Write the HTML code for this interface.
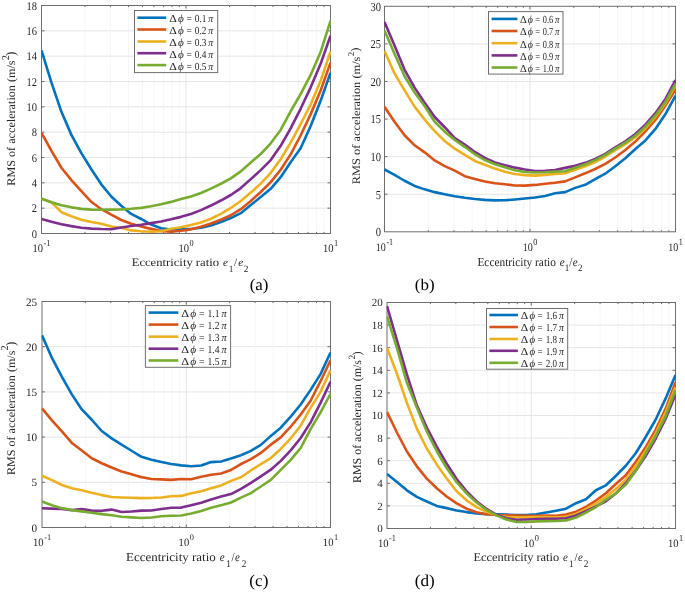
<!DOCTYPE html><html><head><meta charset="utf-8"><style>html,body{margin:0;padding:0;background:#fff;}svg{display:block;will-change:transform;}text{font-family:"Liberation Serif",serif;text-rendering:geometricPrecision;}</style></head><body>
<svg width="685" height="593" viewBox="0 0 685 593">
<rect width="685" height="593" fill="#fff"/>
<line x1="85" y1="6" x2="85" y2="233" stroke="#eeeeee" stroke-width="1" stroke-dasharray="1,1"/><line x1="110.44" y1="6" x2="110.44" y2="233" stroke="#eeeeee" stroke-width="1" stroke-dasharray="1,1"/><line x1="128.5" y1="6" x2="128.5" y2="233" stroke="#eeeeee" stroke-width="1" stroke-dasharray="1,1"/><line x1="142.5" y1="6" x2="142.5" y2="233" stroke="#eeeeee" stroke-width="1" stroke-dasharray="1,1"/><line x1="153.94" y1="6" x2="153.94" y2="233" stroke="#eeeeee" stroke-width="1" stroke-dasharray="1,1"/><line x1="163.62" y1="6" x2="163.62" y2="233" stroke="#eeeeee" stroke-width="1" stroke-dasharray="1,1"/><line x1="172" y1="6" x2="172" y2="233" stroke="#eeeeee" stroke-width="1" stroke-dasharray="1,1"/><line x1="179.39" y1="6" x2="179.39" y2="233" stroke="#eeeeee" stroke-width="1" stroke-dasharray="1,1"/><line x1="229.5" y1="6" x2="229.5" y2="233" stroke="#eeeeee" stroke-width="1" stroke-dasharray="1,1"/><line x1="254.94" y1="6" x2="254.94" y2="233" stroke="#eeeeee" stroke-width="1" stroke-dasharray="1,1"/><line x1="273" y1="6" x2="273" y2="233" stroke="#eeeeee" stroke-width="1" stroke-dasharray="1,1"/><line x1="287" y1="6" x2="287" y2="233" stroke="#eeeeee" stroke-width="1" stroke-dasharray="1,1"/><line x1="298.44" y1="6" x2="298.44" y2="233" stroke="#eeeeee" stroke-width="1" stroke-dasharray="1,1"/><line x1="308.12" y1="6" x2="308.12" y2="233" stroke="#eeeeee" stroke-width="1" stroke-dasharray="1,1"/><line x1="316.5" y1="6" x2="316.5" y2="233" stroke="#eeeeee" stroke-width="1" stroke-dasharray="1,1"/><line x1="323.89" y1="6" x2="323.89" y2="233" stroke="#eeeeee" stroke-width="1" stroke-dasharray="1,1"/><line x1="186" y1="5.5" x2="186" y2="233.5" stroke="#e6e6e6" stroke-width="1"/><line x1="41.5" y1="208.17" x2="330.5" y2="208.17" stroke="#e6e6e6" stroke-width="1"/><line x1="41.5" y1="182.83" x2="330.5" y2="182.83" stroke="#e6e6e6" stroke-width="1"/><line x1="41.5" y1="157.5" x2="330.5" y2="157.5" stroke="#e6e6e6" stroke-width="1"/><line x1="41.5" y1="132.17" x2="330.5" y2="132.17" stroke="#e6e6e6" stroke-width="1"/><line x1="41.5" y1="106.83" x2="330.5" y2="106.83" stroke="#e6e6e6" stroke-width="1"/><line x1="41.5" y1="81.5" x2="330.5" y2="81.5" stroke="#e6e6e6" stroke-width="1"/><line x1="41.5" y1="56.17" x2="330.5" y2="56.17" stroke="#e6e6e6" stroke-width="1"/><line x1="41.5" y1="30.83" x2="330.5" y2="30.83" stroke="#e6e6e6" stroke-width="1"/>
<rect x="41.5" y="5.5" width="289" height="228" fill="none" stroke="#6e6e6e" stroke-width="1"/>
<path d="M41.5,208.17h3M330.5,208.17h-3M41.5,182.83h3M330.5,182.83h-3M41.5,157.5h3M330.5,157.5h-3M41.5,132.17h3M330.5,132.17h-3M41.5,106.83h3M330.5,106.83h-3M41.5,81.5h3M330.5,81.5h-3M41.5,56.17h3M330.5,56.17h-3M41.5,30.83h3M330.5,30.83h-3M85,233.5v-1.6M85,5.5v1.6M110.44,233.5v-1.6M110.44,5.5v1.6M128.5,233.5v-1.6M128.5,5.5v1.6M142.5,233.5v-1.6M142.5,5.5v1.6M153.94,233.5v-1.6M153.94,5.5v1.6M163.62,233.5v-1.6M163.62,5.5v1.6M172,233.5v-1.6M172,5.5v1.6M179.39,233.5v-1.6M179.39,5.5v1.6M186,233.5v-3M186,5.5v3M229.5,233.5v-1.6M229.5,5.5v1.6M254.94,233.5v-1.6M254.94,5.5v1.6M273,233.5v-1.6M273,5.5v1.6M287,233.5v-1.6M287,5.5v1.6M298.44,233.5v-1.6M298.44,5.5v1.6M308.12,233.5v-1.6M308.12,5.5v1.6M316.5,233.5v-1.6M316.5,5.5v1.6M323.89,233.5v-1.6M323.89,5.5v1.6" stroke="#6e6e6e" stroke-width="1" fill="none"/>
<clipPath id="cpa"><rect x="41" y="5" width="290" height="229"/></clipPath><g clip-path="url(#cpa)">
<path d="M41.50,50.40 L51.47,82.59 L61.43,111.85 L71.40,134.88 L81.36,153.15 L91.33,169.21 L101.29,184.32 L111.26,196.46 L121.22,205.76 L131.19,213.96 L141.16,218.99 L151.12,224.59 L161.09,228.20 L171.05,229.55 L181.02,229.04 L190.98,229.00 L200.95,227.83 L210.91,225.43 L220.88,222.06 L230.84,217.99 L240.81,213.19 L250.78,204.99 L260.74,197.03 L270.71,188.85 L280.67,177.19 L290.64,162.20 L300.60,148.25 L310.57,126.27 L320.53,101.07 L330.50,72.80" fill="none" stroke="#0072BD" stroke-width="2.6" stroke-linejoin="round" stroke-linecap="butt"/>
<path d="M41.50,133.00 L51.47,150.89 L61.43,167.72 L71.40,180.09 L81.36,191.17 L91.33,201.82 L101.29,209.23 L111.26,214.60 L121.22,220.00 L131.19,223.79 L141.16,226.58 L151.12,228.86 L161.09,230.98 L171.05,231.79 L181.02,230.77 L190.98,229.35 L200.95,226.72 L210.91,223.43 L220.88,219.72 L230.84,215.24 L240.81,209.19 L250.78,201.01 L260.74,192.04 L270.71,182.11 L280.67,169.77 L290.64,154.38 L300.60,135.51 L310.57,114.38 L320.53,90.86 L330.50,62.60" fill="none" stroke="#D95319" stroke-width="2.6" stroke-linejoin="round" stroke-linecap="butt"/>
<path d="M41.50,198.60 L51.47,202.21 L61.43,212.20 L71.40,216.26 L81.36,219.75 L91.33,222.08 L101.29,223.69 L111.26,226.59 L121.22,227.79 L131.19,230.42 L141.16,231.24 L151.12,231.65 L161.09,231.23 L171.05,228.84 L181.02,227.31 L190.98,224.90 L200.95,222.41 L210.91,218.72 L220.88,213.81 L230.84,207.99 L240.81,200.96 L250.78,192.61 L260.74,183.64 L270.71,172.77 L280.67,159.29 L290.64,142.58 L300.60,124.18 L310.57,104.77 L320.53,80.96 L330.50,51.60" fill="none" stroke="#EDB120" stroke-width="2.6" stroke-linejoin="round" stroke-linecap="butt"/>
<path d="M41.50,219.10 L51.47,221.74 L61.43,224.30 L71.40,226.15 L81.36,227.67 L91.33,228.62 L101.29,229.05 L111.26,229.22 L121.22,227.51 L131.19,226.08 L141.16,224.77 L151.12,223.14 L161.09,221.42 L171.05,219.34 L181.02,216.87 L190.98,213.92 L200.95,210.14 L210.91,205.54 L220.88,200.52 L230.84,195.00 L240.81,188.06 L250.78,179.11 L260.74,170.14 L270.71,160.04 L280.67,145.79 L290.64,128.38 L300.60,108.80 L310.57,87.61 L320.53,64.07 L330.50,35.70" fill="none" stroke="#7E2F8E" stroke-width="2.6" stroke-linejoin="round" stroke-linecap="butt"/>
<path d="M41.50,198.80 L51.47,202.22 L61.43,205.17 L71.40,207.34 L81.36,208.86 L91.33,209.67 L101.29,209.72 L111.26,209.59 L121.22,209.35 L131.19,208.79 L141.16,207.85 L151.12,206.19 L161.09,204.29 L171.05,201.88 L181.02,199.01 L190.98,196.51 L200.95,193.04 L210.91,188.63 L220.88,183.76 L230.84,178.40 L240.81,171.40 L250.78,162.48 L260.74,153.99 L270.71,143.31 L280.67,129.97 L290.64,111.27 L300.60,94.12 L310.57,75.19 L320.53,52.27 L330.50,20.90" fill="none" stroke="#77AC30" stroke-width="2.6" stroke-linejoin="round" stroke-linecap="butt"/>
</g>
<rect x="134.5" y="10.5" width="83.2" height="62.1" fill="#fff" stroke="#6e6e6e" stroke-width="1"/>
<line x1="137.4" y1="17.7" x2="166.2" y2="17.7" stroke="#0072BD" stroke-width="2.6"/>
<text transform="translate(173,22.1)" font-size="10.8" text-anchor="middle" textLength="7.61" lengthAdjust="spacingAndGlyphs" fill="#262626">&#916;</text>
<text transform="translate(180.9,22.1)" font-size="10.8" text-anchor="middle" textLength="5.79" lengthAdjust="spacingAndGlyphs" fill="#262626" font-style="italic">&#981;</text>
<text transform="translate(189.11,22.1)" font-size="10.8" text-anchor="middle" textLength="5.38" lengthAdjust="spacingAndGlyphs" fill="#262626">=</text>
<text transform="translate(200.59,22.1)" font-size="10.8" text-anchor="middle" textLength="11.61" lengthAdjust="spacingAndGlyphs" fill="#262626">0.1</text>
<text transform="translate(210.81,22.1)" font-size="10.8" text-anchor="middle" textLength="4.98" lengthAdjust="spacingAndGlyphs" fill="#262626" font-style="italic">&#960;</text>
<line x1="137.4" y1="29.5" x2="166.2" y2="29.5" stroke="#D95319" stroke-width="2.6"/>
<text transform="translate(173,33.9)" font-size="10.8" text-anchor="middle" textLength="7.61" lengthAdjust="spacingAndGlyphs" fill="#262626">&#916;</text>
<text transform="translate(180.9,33.9)" font-size="10.8" text-anchor="middle" textLength="5.79" lengthAdjust="spacingAndGlyphs" fill="#262626" font-style="italic">&#981;</text>
<text transform="translate(189.11,33.9)" font-size="10.8" text-anchor="middle" textLength="5.38" lengthAdjust="spacingAndGlyphs" fill="#262626">=</text>
<text transform="translate(200.59,33.9)" font-size="10.8" text-anchor="middle" textLength="11.61" lengthAdjust="spacingAndGlyphs" fill="#262626">0.2</text>
<text transform="translate(210.81,33.9)" font-size="10.8" text-anchor="middle" textLength="4.98" lengthAdjust="spacingAndGlyphs" fill="#262626" font-style="italic">&#960;</text>
<line x1="137.4" y1="41.5" x2="166.2" y2="41.5" stroke="#EDB120" stroke-width="2.6"/>
<text transform="translate(173,45.9)" font-size="10.8" text-anchor="middle" textLength="7.61" lengthAdjust="spacingAndGlyphs" fill="#262626">&#916;</text>
<text transform="translate(180.9,45.9)" font-size="10.8" text-anchor="middle" textLength="5.79" lengthAdjust="spacingAndGlyphs" fill="#262626" font-style="italic">&#981;</text>
<text transform="translate(189.11,45.9)" font-size="10.8" text-anchor="middle" textLength="5.38" lengthAdjust="spacingAndGlyphs" fill="#262626">=</text>
<text transform="translate(200.59,45.9)" font-size="10.8" text-anchor="middle" textLength="11.61" lengthAdjust="spacingAndGlyphs" fill="#262626">0.3</text>
<text transform="translate(210.81,45.9)" font-size="10.8" text-anchor="middle" textLength="4.98" lengthAdjust="spacingAndGlyphs" fill="#262626" font-style="italic">&#960;</text>
<line x1="137.4" y1="53.2" x2="166.2" y2="53.2" stroke="#7E2F8E" stroke-width="2.6"/>
<text transform="translate(173,57.6)" font-size="10.8" text-anchor="middle" textLength="7.61" lengthAdjust="spacingAndGlyphs" fill="#262626">&#916;</text>
<text transform="translate(180.9,57.6)" font-size="10.8" text-anchor="middle" textLength="5.79" lengthAdjust="spacingAndGlyphs" fill="#262626" font-style="italic">&#981;</text>
<text transform="translate(189.11,57.6)" font-size="10.8" text-anchor="middle" textLength="5.38" lengthAdjust="spacingAndGlyphs" fill="#262626">=</text>
<text transform="translate(200.59,57.6)" font-size="10.8" text-anchor="middle" textLength="11.61" lengthAdjust="spacingAndGlyphs" fill="#262626">0.4</text>
<text transform="translate(210.81,57.6)" font-size="10.8" text-anchor="middle" textLength="4.98" lengthAdjust="spacingAndGlyphs" fill="#262626" font-style="italic">&#960;</text>
<line x1="137.4" y1="65.1" x2="166.2" y2="65.1" stroke="#77AC30" stroke-width="2.6"/>
<text transform="translate(173,69.5)" font-size="10.8" text-anchor="middle" textLength="7.61" lengthAdjust="spacingAndGlyphs" fill="#262626">&#916;</text>
<text transform="translate(180.9,69.5)" font-size="10.8" text-anchor="middle" textLength="5.79" lengthAdjust="spacingAndGlyphs" fill="#262626" font-style="italic">&#981;</text>
<text transform="translate(189.11,69.5)" font-size="10.8" text-anchor="middle" textLength="5.38" lengthAdjust="spacingAndGlyphs" fill="#262626">=</text>
<text transform="translate(200.59,69.5)" font-size="10.8" text-anchor="middle" textLength="11.61" lengthAdjust="spacingAndGlyphs" fill="#262626">0.5</text>
<text transform="translate(210.81,69.5)" font-size="10.8" text-anchor="middle" textLength="4.98" lengthAdjust="spacingAndGlyphs" fill="#262626" font-style="italic">&#960;</text>
<text transform="translate(37.1,237.71) scale(1,1.12)" font-size="10.5" text-anchor="end" fill="#262626">0</text>
<text transform="translate(37.1,212.38) scale(1,1.12)" font-size="10.5" text-anchor="end" fill="#262626">2</text>
<text transform="translate(37.1,187.04) scale(1,1.12)" font-size="10.5" text-anchor="end" fill="#262626">4</text>
<text transform="translate(37.1,161.71) scale(1,1.12)" font-size="10.5" text-anchor="end" fill="#262626">6</text>
<text transform="translate(37.1,136.38) scale(1,1.12)" font-size="10.5" text-anchor="end" fill="#262626">8</text>
<text transform="translate(37.1,111.04) scale(1,1.12)" font-size="10.5" text-anchor="end" fill="#262626">10</text>
<text transform="translate(37.1,85.71) scale(1,1.12)" font-size="10.5" text-anchor="end" fill="#262626">12</text>
<text transform="translate(37.1,60.38) scale(1,1.12)" font-size="10.5" text-anchor="end" fill="#262626">14</text>
<text transform="translate(37.1,35.04) scale(1,1.12)" font-size="10.5" text-anchor="end" fill="#262626">16</text>
<text transform="translate(37.1,9.71) scale(1,1.12)" font-size="10.5" text-anchor="end" fill="#262626">18</text>
<text transform="translate(41.5,252.1) scale(1,1.1)" font-size="10.5" text-anchor="middle" fill="#262626">10<tspan dx="0.6" dy="-5.45" font-size="8.3">-1</tspan></text>
<text transform="translate(186,252.1) scale(1,1.1)" font-size="10.5" text-anchor="middle" fill="#262626">10<tspan dx="0.6" dy="-5.45" font-size="8.3">0</tspan></text>
<text transform="translate(330.5,252.1) scale(1,1.1)" font-size="10.5" text-anchor="middle" fill="#262626">10<tspan dx="0.6" dy="-5.45" font-size="8.3">1</tspan></text>
<text transform="translate(175.35,265.6) scale(1,1.03)" font-size="11" text-anchor="middle" textLength="87.35" lengthAdjust="spacingAndGlyphs" fill="#262626">Eccentricity ratio</text>
<text transform="translate(225.35,265.6) scale(1,1.03)" font-size="11" text-anchor="middle" fill="#262626" font-style="italic">e</text>
<text transform="translate(231.05,271.6) scale(1,1.03)" font-size="9.3" text-anchor="middle" fill="#262626">1</text>
<text transform="translate(235.65,265.6) scale(1,1.03)" font-size="11" text-anchor="middle" fill="#262626">/</text>
<text transform="translate(240.6,265.6) scale(1,1.03)" font-size="11" text-anchor="middle" fill="#262626" font-style="italic">e</text>
<text transform="translate(246.05,271.6) scale(1,1.03)" font-size="9.3" text-anchor="middle" fill="#262626">2</text>
<text transform="translate(14.6,185.7) rotate(-90)" font-size="11.7" textLength="125.29" lengthAdjust="spacingAndGlyphs" fill="#262626">RMS of acceleration (m/s</text>
<text transform="translate(8.5,57.65) rotate(-90)" font-size="10.42" text-anchor="middle" fill="#262626">2</text>
<text transform="translate(14.58,51.5) rotate(-90)" font-size="13.22" text-anchor="end" fill="#262626">)</text>
<text transform="translate(259.05,290.4)" font-size="16.43" text-anchor="middle" textLength="18.8" lengthAdjust="spacingAndGlyphs" fill="#000">(a)</text>
<line x1="428.3" y1="7" x2="428.3" y2="231" stroke="#eeeeee" stroke-width="1" stroke-dasharray="1,1"/><line x1="453.92" y1="7" x2="453.92" y2="231" stroke="#eeeeee" stroke-width="1" stroke-dasharray="1,1"/><line x1="472.1" y1="7" x2="472.1" y2="231" stroke="#eeeeee" stroke-width="1" stroke-dasharray="1,1"/><line x1="486.2" y1="7" x2="486.2" y2="231" stroke="#eeeeee" stroke-width="1" stroke-dasharray="1,1"/><line x1="497.72" y1="7" x2="497.72" y2="231" stroke="#eeeeee" stroke-width="1" stroke-dasharray="1,1"/><line x1="507.46" y1="7" x2="507.46" y2="231" stroke="#eeeeee" stroke-width="1" stroke-dasharray="1,1"/><line x1="515.9" y1="7" x2="515.9" y2="231" stroke="#eeeeee" stroke-width="1" stroke-dasharray="1,1"/><line x1="523.34" y1="7" x2="523.34" y2="231" stroke="#eeeeee" stroke-width="1" stroke-dasharray="1,1"/><line x1="573.8" y1="7" x2="573.8" y2="231" stroke="#eeeeee" stroke-width="1" stroke-dasharray="1,1"/><line x1="599.42" y1="7" x2="599.42" y2="231" stroke="#eeeeee" stroke-width="1" stroke-dasharray="1,1"/><line x1="617.6" y1="7" x2="617.6" y2="231" stroke="#eeeeee" stroke-width="1" stroke-dasharray="1,1"/><line x1="631.7" y1="7" x2="631.7" y2="231" stroke="#eeeeee" stroke-width="1" stroke-dasharray="1,1"/><line x1="643.22" y1="7" x2="643.22" y2="231" stroke="#eeeeee" stroke-width="1" stroke-dasharray="1,1"/><line x1="652.96" y1="7" x2="652.96" y2="231" stroke="#eeeeee" stroke-width="1" stroke-dasharray="1,1"/><line x1="661.4" y1="7" x2="661.4" y2="231" stroke="#eeeeee" stroke-width="1" stroke-dasharray="1,1"/><line x1="668.84" y1="7" x2="668.84" y2="231" stroke="#eeeeee" stroke-width="1" stroke-dasharray="1,1"/><line x1="530" y1="6.3" x2="530" y2="231.8" stroke="#e6e6e6" stroke-width="1"/><line x1="384.5" y1="194.22" x2="675.5" y2="194.22" stroke="#e6e6e6" stroke-width="1"/><line x1="384.5" y1="156.63" x2="675.5" y2="156.63" stroke="#e6e6e6" stroke-width="1"/><line x1="384.5" y1="119.05" x2="675.5" y2="119.05" stroke="#e6e6e6" stroke-width="1"/><line x1="384.5" y1="81.47" x2="675.5" y2="81.47" stroke="#e6e6e6" stroke-width="1"/><line x1="384.5" y1="43.88" x2="675.5" y2="43.88" stroke="#e6e6e6" stroke-width="1"/>
<rect x="384.5" y="6.3" width="291" height="225.5" fill="none" stroke="#6e6e6e" stroke-width="1"/>
<path d="M384.5,194.22h3M675.5,194.22h-3M384.5,156.63h3M675.5,156.63h-3M384.5,119.05h3M675.5,119.05h-3M384.5,81.47h3M675.5,81.47h-3M384.5,43.88h3M675.5,43.88h-3M428.3,231.8v-1.6M428.3,6.3v1.6M453.92,231.8v-1.6M453.92,6.3v1.6M472.1,231.8v-1.6M472.1,6.3v1.6M486.2,231.8v-1.6M486.2,6.3v1.6M497.72,231.8v-1.6M497.72,6.3v1.6M507.46,231.8v-1.6M507.46,6.3v1.6M515.9,231.8v-1.6M515.9,6.3v1.6M523.34,231.8v-1.6M523.34,6.3v1.6M530,231.8v-3M530,6.3v3M573.8,231.8v-1.6M573.8,6.3v1.6M599.42,231.8v-1.6M599.42,6.3v1.6M617.6,231.8v-1.6M617.6,6.3v1.6M631.7,231.8v-1.6M631.7,6.3v1.6M643.22,231.8v-1.6M643.22,6.3v1.6M652.96,231.8v-1.6M652.96,6.3v1.6M661.4,231.8v-1.6M661.4,6.3v1.6M668.84,231.8v-1.6M668.84,6.3v1.6" stroke="#6e6e6e" stroke-width="1" fill="none"/>
<clipPath id="cpb"><rect x="384" y="5.8" width="292" height="226.5"/></clipPath><g clip-path="url(#cpb)">
<path d="M384.50,169.50 L394.53,174.78 L404.57,180.75 L414.60,185.95 L424.64,189.37 L434.67,192.14 L444.71,194.29 L454.74,196.18 L464.78,197.70 L474.81,198.95 L484.84,199.84 L494.88,200.33 L504.91,200.25 L514.95,199.45 L524.98,198.50 L535.02,197.47 L545.05,196.06 L555.09,193.29 L565.12,192.15 L575.16,187.87 L585.19,184.80 L595.22,179.13 L605.26,173.73 L615.29,166.19 L625.33,158.24 L635.36,149.06 L645.40,140.42 L655.43,128.91 L665.47,114.04 L675.50,95.70" fill="none" stroke="#0072BD" stroke-width="2.6" stroke-linejoin="round" stroke-linecap="butt"/>
<path d="M384.50,106.80 L394.53,121.78 L404.57,135.26 L414.60,145.30 L424.64,152.35 L434.67,160.40 L444.71,166.06 L454.74,170.60 L464.78,176.17 L474.81,178.92 L484.84,181.46 L494.88,183.19 L504.91,184.22 L514.95,185.50 L524.98,185.60 L535.02,184.92 L545.05,183.73 L555.09,182.73 L565.12,181.35 L575.16,177.34 L585.19,173.32 L595.22,168.98 L605.26,163.92 L615.29,157.49 L625.33,150.04 L635.36,141.62 L645.40,131.42 L655.43,119.96 L665.47,105.58 L675.50,89.60" fill="none" stroke="#D95319" stroke-width="2.6" stroke-linejoin="round" stroke-linecap="butt"/>
<path d="M384.50,51.00 L394.53,73.41 L404.57,90.35 L414.60,106.64 L424.64,119.56 L434.67,131.17 L444.71,140.97 L454.74,148.73 L464.78,154.82 L474.81,160.98 L484.84,164.79 L494.88,168.61 L504.91,171.80 L514.95,174.06 L524.98,175.10 L535.02,175.65 L545.05,174.88 L555.09,173.93 L565.12,173.26 L575.16,169.76 L585.19,166.22 L595.22,162.03 L605.26,156.53 L615.29,150.09 L625.33,144.07 L635.36,137.28 L645.40,128.15 L655.43,116.93 L665.47,103.22 L675.50,85.50" fill="none" stroke="#EDB120" stroke-width="2.6" stroke-linejoin="round" stroke-linecap="butt"/>
<path d="M384.50,22.00 L394.53,45.59 L404.57,69.78 L414.60,87.61 L424.64,102.73 L434.67,116.98 L444.71,127.23 L454.74,138.14 L464.78,144.51 L474.81,151.94 L484.84,157.87 L494.88,162.43 L504.91,165.14 L514.95,167.65 L524.98,169.58 L535.02,170.99 L545.05,170.82 L555.09,170.12 L565.12,167.88 L575.16,165.87 L585.19,162.87 L595.22,158.88 L605.26,153.82 L615.29,147.39 L625.33,141.33 L635.36,134.06 L645.40,124.60 L655.43,113.14 L665.47,98.89 L675.50,80.20" fill="none" stroke="#7E2F8E" stroke-width="2.6" stroke-linejoin="round" stroke-linecap="butt"/>
<path d="M384.50,30.50 L394.53,53.75 L404.57,76.27 L414.60,92.51 L424.64,105.99 L434.67,121.77 L444.71,131.63 L454.74,139.96 L464.78,146.81 L474.81,154.19 L484.84,160.07 L494.88,164.30 L504.91,167.36 L514.95,170.18 L524.98,172.00 L535.02,172.48 L545.05,172.23 L555.09,171.62 L565.12,171.26 L575.16,167.69 L585.19,164.17 L595.22,160.13 L605.26,154.93 L615.29,148.63 L625.33,142.55 L635.36,135.74 L645.40,126.65 L655.43,115.43 L665.47,101.72 L675.50,83.60" fill="none" stroke="#77AC30" stroke-width="2.6" stroke-linejoin="round" stroke-linecap="butt"/>
</g>
<rect x="488.5" y="11.6" width="74.5" height="62.5" fill="#fff" stroke="#6e6e6e" stroke-width="1"/>
<line x1="491.6" y1="18.9" x2="517.4" y2="18.9" stroke="#0072BD" stroke-width="2.6"/>
<text transform="translate(523.28,23.3)" font-size="10.8" text-anchor="middle" textLength="6.76" lengthAdjust="spacingAndGlyphs" fill="#262626">&#916;</text>
<text transform="translate(530.35,23.3)" font-size="10.8" text-anchor="middle" textLength="5.13" lengthAdjust="spacingAndGlyphs" fill="#262626" font-style="italic">&#981;</text>
<text transform="translate(537.69,23.3)" font-size="10.8" text-anchor="middle" textLength="4.77" lengthAdjust="spacingAndGlyphs" fill="#262626">=</text>
<text transform="translate(547.96,23.3)" font-size="10.8" text-anchor="middle" textLength="10.35" lengthAdjust="spacingAndGlyphs" fill="#262626">0.6</text>
<text transform="translate(557.09,23.3)" font-size="10.8" text-anchor="middle" textLength="4.42" lengthAdjust="spacingAndGlyphs" fill="#262626" font-style="italic">&#960;</text>
<line x1="491.6" y1="31.0" x2="517.4" y2="31.0" stroke="#D95319" stroke-width="2.6"/>
<text transform="translate(523.28,35.4)" font-size="10.8" text-anchor="middle" textLength="6.76" lengthAdjust="spacingAndGlyphs" fill="#262626">&#916;</text>
<text transform="translate(530.35,35.4)" font-size="10.8" text-anchor="middle" textLength="5.13" lengthAdjust="spacingAndGlyphs" fill="#262626" font-style="italic">&#981;</text>
<text transform="translate(537.69,35.4)" font-size="10.8" text-anchor="middle" textLength="4.77" lengthAdjust="spacingAndGlyphs" fill="#262626">=</text>
<text transform="translate(547.96,35.4)" font-size="10.8" text-anchor="middle" textLength="10.35" lengthAdjust="spacingAndGlyphs" fill="#262626">0.7</text>
<text transform="translate(557.09,35.4)" font-size="10.8" text-anchor="middle" textLength="4.42" lengthAdjust="spacingAndGlyphs" fill="#262626" font-style="italic">&#960;</text>
<line x1="491.6" y1="43.2" x2="517.4" y2="43.2" stroke="#EDB120" stroke-width="2.6"/>
<text transform="translate(523.28,47.6)" font-size="10.8" text-anchor="middle" textLength="6.76" lengthAdjust="spacingAndGlyphs" fill="#262626">&#916;</text>
<text transform="translate(530.35,47.6)" font-size="10.8" text-anchor="middle" textLength="5.13" lengthAdjust="spacingAndGlyphs" fill="#262626" font-style="italic">&#981;</text>
<text transform="translate(537.69,47.6)" font-size="10.8" text-anchor="middle" textLength="4.77" lengthAdjust="spacingAndGlyphs" fill="#262626">=</text>
<text transform="translate(547.96,47.6)" font-size="10.8" text-anchor="middle" textLength="10.35" lengthAdjust="spacingAndGlyphs" fill="#262626">0.8</text>
<text transform="translate(557.09,47.6)" font-size="10.8" text-anchor="middle" textLength="4.42" lengthAdjust="spacingAndGlyphs" fill="#262626" font-style="italic">&#960;</text>
<line x1="491.6" y1="55.4" x2="517.4" y2="55.4" stroke="#7E2F8E" stroke-width="2.6"/>
<text transform="translate(523.28,59.8)" font-size="10.8" text-anchor="middle" textLength="6.76" lengthAdjust="spacingAndGlyphs" fill="#262626">&#916;</text>
<text transform="translate(530.35,59.8)" font-size="10.8" text-anchor="middle" textLength="5.13" lengthAdjust="spacingAndGlyphs" fill="#262626" font-style="italic">&#981;</text>
<text transform="translate(537.69,59.8)" font-size="10.8" text-anchor="middle" textLength="4.77" lengthAdjust="spacingAndGlyphs" fill="#262626">=</text>
<text transform="translate(547.96,59.8)" font-size="10.8" text-anchor="middle" textLength="10.35" lengthAdjust="spacingAndGlyphs" fill="#262626">0.9</text>
<text transform="translate(557.09,59.8)" font-size="10.8" text-anchor="middle" textLength="4.42" lengthAdjust="spacingAndGlyphs" fill="#262626" font-style="italic">&#960;</text>
<line x1="491.6" y1="67.5" x2="517.4" y2="67.5" stroke="#77AC30" stroke-width="2.6"/>
<text transform="translate(523.28,71.9)" font-size="10.8" text-anchor="middle" textLength="6.76" lengthAdjust="spacingAndGlyphs" fill="#262626">&#916;</text>
<text transform="translate(530.35,71.9)" font-size="10.8" text-anchor="middle" textLength="5.13" lengthAdjust="spacingAndGlyphs" fill="#262626" font-style="italic">&#981;</text>
<text transform="translate(537.69,71.9)" font-size="10.8" text-anchor="middle" textLength="4.77" lengthAdjust="spacingAndGlyphs" fill="#262626">=</text>
<text transform="translate(547.96,71.9)" font-size="10.8" text-anchor="middle" textLength="10.35" lengthAdjust="spacingAndGlyphs" fill="#262626">1.0</text>
<text transform="translate(557.09,71.9)" font-size="10.8" text-anchor="middle" textLength="4.42" lengthAdjust="spacingAndGlyphs" fill="#262626" font-style="italic">&#960;</text>
<text transform="translate(381.1,236.18) scale(1,1.17)" font-size="10.5" text-anchor="end" fill="#262626">0</text>
<text transform="translate(381.1,198.6) scale(1,1.17)" font-size="10.5" text-anchor="end" fill="#262626">5</text>
<text transform="translate(381.1,161.02) scale(1,1.17)" font-size="10.5" text-anchor="end" fill="#262626">10</text>
<text transform="translate(381.1,123.43) scale(1,1.17)" font-size="10.5" text-anchor="end" fill="#262626">15</text>
<text transform="translate(381.1,85.85) scale(1,1.17)" font-size="10.5" text-anchor="end" fill="#262626">20</text>
<text transform="translate(381.1,48.27) scale(1,1.17)" font-size="10.5" text-anchor="end" fill="#262626">25</text>
<text transform="translate(381.1,10.68) scale(1,1.17)" font-size="10.5" text-anchor="end" fill="#262626">30</text>
<text transform="translate(384.5,251) scale(1,1.15)" font-size="10" text-anchor="middle" fill="#262626">10<tspan dx="0.6" dy="-5.04" font-size="8.1">-1</tspan></text>
<text transform="translate(530,251) scale(1,1.15)" font-size="10" text-anchor="middle" fill="#262626">10<tspan dx="0.6" dy="-5.04" font-size="8.1">0</tspan></text>
<text transform="translate(675.5,251) scale(1,1.15)" font-size="10" text-anchor="middle" fill="#262626">10<tspan dx="0.6" dy="-5.04" font-size="8.1">1</tspan></text>
<text transform="translate(516.65,265.7) scale(1,1.1)" font-size="11" text-anchor="middle" textLength="78.46" lengthAdjust="spacingAndGlyphs" fill="#262626">Eccentricity ratio</text>
<text transform="translate(562.1,265.7) scale(1,1.1)" font-size="11" text-anchor="middle" fill="#262626" font-style="italic">e</text>
<text transform="translate(567,271.1) scale(1,1.1)" font-size="9" text-anchor="middle" fill="#262626">1</text>
<text transform="translate(570.85,265.7) scale(1,1.1)" font-size="11" text-anchor="middle" fill="#262626">/</text>
<text transform="translate(575.15,265.7) scale(1,1.1)" font-size="11" text-anchor="middle" fill="#262626" font-style="italic">e</text>
<text transform="translate(580.3,271.1) scale(1,1.1)" font-size="9" text-anchor="middle" fill="#262626">2</text>
<text transform="translate(359.7,184.2) rotate(-90)" font-size="11.4" textLength="127.6" lengthAdjust="spacingAndGlyphs" fill="#262626">RMS of acceleration (m/s</text>
<text transform="translate(353.5,53.95) rotate(-90)" font-size="8.91" text-anchor="middle" fill="#262626">2</text>
<text transform="translate(358.89,47.5) rotate(-90)" font-size="11.76" text-anchor="end" fill="#262626">)</text>
<text transform="translate(424.75,290.42)" font-size="16.32" text-anchor="middle" textLength="19.88" lengthAdjust="spacingAndGlyphs" fill="#000">(b)</text>
<line x1="85.42" y1="302" x2="85.42" y2="527" stroke="#eeeeee" stroke-width="1" stroke-dasharray="1,1"/><line x1="110.82" y1="302" x2="110.82" y2="527" stroke="#eeeeee" stroke-width="1" stroke-dasharray="1,1"/><line x1="128.85" y1="302" x2="128.85" y2="527" stroke="#eeeeee" stroke-width="1" stroke-dasharray="1,1"/><line x1="142.83" y1="302" x2="142.83" y2="527" stroke="#eeeeee" stroke-width="1" stroke-dasharray="1,1"/><line x1="154.25" y1="302" x2="154.25" y2="527" stroke="#eeeeee" stroke-width="1" stroke-dasharray="1,1"/><line x1="163.91" y1="302" x2="163.91" y2="527" stroke="#eeeeee" stroke-width="1" stroke-dasharray="1,1"/><line x1="172.27" y1="302" x2="172.27" y2="527" stroke="#eeeeee" stroke-width="1" stroke-dasharray="1,1"/><line x1="179.65" y1="302" x2="179.65" y2="527" stroke="#eeeeee" stroke-width="1" stroke-dasharray="1,1"/><line x1="229.67" y1="302" x2="229.67" y2="527" stroke="#eeeeee" stroke-width="1" stroke-dasharray="1,1"/><line x1="255.07" y1="302" x2="255.07" y2="527" stroke="#eeeeee" stroke-width="1" stroke-dasharray="1,1"/><line x1="273.1" y1="302" x2="273.1" y2="527" stroke="#eeeeee" stroke-width="1" stroke-dasharray="1,1"/><line x1="287.08" y1="302" x2="287.08" y2="527" stroke="#eeeeee" stroke-width="1" stroke-dasharray="1,1"/><line x1="298.5" y1="302" x2="298.5" y2="527" stroke="#eeeeee" stroke-width="1" stroke-dasharray="1,1"/><line x1="308.16" y1="302" x2="308.16" y2="527" stroke="#eeeeee" stroke-width="1" stroke-dasharray="1,1"/><line x1="316.52" y1="302" x2="316.52" y2="527" stroke="#eeeeee" stroke-width="1" stroke-dasharray="1,1"/><line x1="323.9" y1="302" x2="323.9" y2="527" stroke="#eeeeee" stroke-width="1" stroke-dasharray="1,1"/><line x1="186.25" y1="301.5" x2="186.25" y2="527.5" stroke="#e6e6e6" stroke-width="1"/><line x1="42.0" y1="482.3" x2="330.5" y2="482.3" stroke="#e6e6e6" stroke-width="1"/><line x1="42.0" y1="437.1" x2="330.5" y2="437.1" stroke="#e6e6e6" stroke-width="1"/><line x1="42.0" y1="391.9" x2="330.5" y2="391.9" stroke="#e6e6e6" stroke-width="1"/><line x1="42.0" y1="346.7" x2="330.5" y2="346.7" stroke="#e6e6e6" stroke-width="1"/>
<rect x="42.0" y="301.5" width="288.5" height="226" fill="none" stroke="#6e6e6e" stroke-width="1"/>
<path d="M42.0,482.3h3M330.5,482.3h-3M42.0,437.1h3M330.5,437.1h-3M42.0,391.9h3M330.5,391.9h-3M42.0,346.7h3M330.5,346.7h-3M85.42,527.5v-1.6M85.42,301.5v1.6M110.82,527.5v-1.6M110.82,301.5v1.6M128.85,527.5v-1.6M128.85,301.5v1.6M142.83,527.5v-1.6M142.83,301.5v1.6M154.25,527.5v-1.6M154.25,301.5v1.6M163.91,527.5v-1.6M163.91,301.5v1.6M172.27,527.5v-1.6M172.27,301.5v1.6M179.65,527.5v-1.6M179.65,301.5v1.6M186.25,527.5v-3M186.25,301.5v3M229.67,527.5v-1.6M229.67,301.5v1.6M255.07,527.5v-1.6M255.07,301.5v1.6M273.1,527.5v-1.6M273.1,301.5v1.6M287.08,527.5v-1.6M287.08,301.5v1.6M298.5,527.5v-1.6M298.5,301.5v1.6M308.16,527.5v-1.6M308.16,301.5v1.6M316.52,527.5v-1.6M316.52,301.5v1.6M323.9,527.5v-1.6M323.9,301.5v1.6" stroke="#6e6e6e" stroke-width="1" fill="none"/>
<clipPath id="cpc"><rect x="41.5" y="301" width="289.5" height="227"/></clipPath><g clip-path="url(#cpc)">
<path d="M42.00,335.30 L51.95,357.98 L61.90,376.85 L71.84,394.37 L81.79,409.43 L91.74,419.74 L101.69,430.99 L111.64,438.39 L121.59,444.58 L131.53,450.74 L141.48,456.84 L151.43,459.70 L161.38,462.08 L171.33,463.93 L181.28,465.34 L191.22,466.28 L201.17,465.54 L211.12,462.08 L221.07,461.47 L231.02,458.45 L240.97,455.31 L250.91,450.83 L260.86,444.85 L270.81,435.90 L280.76,427.71 L290.71,416.68 L300.66,404.51 L310.60,389.87 L320.55,374.10 L330.50,352.60" fill="none" stroke="#0072BD" stroke-width="2.6" stroke-linejoin="round" stroke-linecap="butt"/>
<path d="M42.00,408.40 L51.95,420.37 L61.90,431.44 L71.84,442.94 L81.79,450.52 L91.74,458.27 L101.69,463.24 L111.64,467.44 L121.59,471.47 L131.53,474.18 L141.48,477.14 L151.43,478.95 L161.38,479.35 L171.33,479.86 L181.28,479.01 L191.22,479.27 L201.17,476.76 L211.12,474.70 L221.07,473.55 L231.02,469.93 L240.97,464.02 L250.91,459.13 L260.86,452.96 L270.81,444.64 L280.76,437.33 L290.71,426.71 L300.66,414.45 L310.60,400.72 L320.55,381.20 L330.50,360.40" fill="none" stroke="#D95319" stroke-width="2.6" stroke-linejoin="round" stroke-linecap="butt"/>
<path d="M42.00,475.70 L51.95,480.17 L61.90,485.03 L71.84,488.28 L81.79,490.30 L91.74,492.83 L101.69,495.10 L111.64,496.95 L121.59,497.43 L131.53,497.73 L141.48,498.15 L151.43,498.05 L161.38,497.55 L171.33,496.20 L181.28,495.89 L191.22,493.20 L201.17,491.22 L211.12,488.25 L221.07,485.44 L231.02,480.89 L240.97,477.21 L250.91,470.47 L260.86,464.19 L270.81,458.05 L280.76,448.94 L290.71,438.28 L300.66,425.69 L310.60,407.93 L320.55,391.86 L330.50,370.20" fill="none" stroke="#EDB120" stroke-width="2.6" stroke-linejoin="round" stroke-linecap="butt"/>
<path d="M42.00,508.30 L51.95,508.60 L61.90,509.07 L71.84,510.09 L81.79,509.12 L91.74,510.61 L101.69,510.83 L111.64,509.60 L121.59,512.04 L131.53,511.56 L141.48,510.59 L151.43,510.50 L161.38,508.93 L171.33,507.69 L181.28,507.60 L191.22,505.17 L201.17,502.75 L211.12,499.49 L221.07,496.57 L231.02,494.11 L240.97,488.81 L250.91,482.89 L260.86,476.33 L270.81,469.69 L280.76,460.87 L290.71,450.36 L300.66,438.03 L310.60,422.39 L320.55,402.87 L330.50,381.70" fill="none" stroke="#7E2F8E" stroke-width="2.6" stroke-linejoin="round" stroke-linecap="butt"/>
<path d="M42.00,501.50 L51.95,505.29 L61.90,508.14 L71.84,510.09 L81.79,511.41 L91.74,512.82 L101.69,514.11 L111.64,515.26 L121.59,516.69 L131.53,517.40 L141.48,518.07 L151.43,517.54 L161.38,516.30 L171.33,515.82 L181.28,515.50 L191.22,513.57 L201.17,511.06 L211.12,507.79 L221.07,505.16 L231.02,502.49 L240.97,497.61 L250.91,493.12 L260.86,486.49 L270.81,479.89 L280.76,469.84 L290.71,459.89 L300.66,447.98 L310.60,429.06 L320.55,412.35 L330.50,393.80" fill="none" stroke="#77AC30" stroke-width="2.6" stroke-linejoin="round" stroke-linecap="butt"/>
</g>
<rect x="145.4" y="305.6" width="85.2" height="61.7" fill="#fff" stroke="#6e6e6e" stroke-width="1"/>
<line x1="148.6" y1="312.6" x2="178.3" y2="312.6" stroke="#0072BD" stroke-width="2.6"/>
<text transform="translate(185.11,317)" font-size="10.8" text-anchor="middle" textLength="7.83" lengthAdjust="spacingAndGlyphs" fill="#262626">&#916;</text>
<text transform="translate(193.22,317)" font-size="10.8" text-anchor="middle" textLength="5.95" lengthAdjust="spacingAndGlyphs" fill="#262626" font-style="italic">&#981;</text>
<text transform="translate(201.66,317)" font-size="10.8" text-anchor="middle" textLength="5.54" lengthAdjust="spacingAndGlyphs" fill="#262626">=</text>
<text transform="translate(213.45,317)" font-size="10.8" text-anchor="middle" textLength="11.94" lengthAdjust="spacingAndGlyphs" fill="#262626">1.1</text>
<text transform="translate(223.94,317)" font-size="10.8" text-anchor="middle" textLength="5.13" lengthAdjust="spacingAndGlyphs" fill="#262626" font-style="italic">&#960;</text>
<line x1="148.6" y1="324.6" x2="178.3" y2="324.6" stroke="#D95319" stroke-width="2.6"/>
<text transform="translate(185.11,329)" font-size="10.8" text-anchor="middle" textLength="7.83" lengthAdjust="spacingAndGlyphs" fill="#262626">&#916;</text>
<text transform="translate(193.22,329)" font-size="10.8" text-anchor="middle" textLength="5.95" lengthAdjust="spacingAndGlyphs" fill="#262626" font-style="italic">&#981;</text>
<text transform="translate(201.66,329)" font-size="10.8" text-anchor="middle" textLength="5.54" lengthAdjust="spacingAndGlyphs" fill="#262626">=</text>
<text transform="translate(213.45,329)" font-size="10.8" text-anchor="middle" textLength="11.94" lengthAdjust="spacingAndGlyphs" fill="#262626">1.2</text>
<text transform="translate(223.94,329)" font-size="10.8" text-anchor="middle" textLength="5.13" lengthAdjust="spacingAndGlyphs" fill="#262626" font-style="italic">&#960;</text>
<line x1="148.6" y1="336.7" x2="178.3" y2="336.7" stroke="#EDB120" stroke-width="2.6"/>
<text transform="translate(185.11,341.1)" font-size="10.8" text-anchor="middle" textLength="7.83" lengthAdjust="spacingAndGlyphs" fill="#262626">&#916;</text>
<text transform="translate(193.22,341.1)" font-size="10.8" text-anchor="middle" textLength="5.95" lengthAdjust="spacingAndGlyphs" fill="#262626" font-style="italic">&#981;</text>
<text transform="translate(201.66,341.1)" font-size="10.8" text-anchor="middle" textLength="5.54" lengthAdjust="spacingAndGlyphs" fill="#262626">=</text>
<text transform="translate(213.45,341.1)" font-size="10.8" text-anchor="middle" textLength="11.94" lengthAdjust="spacingAndGlyphs" fill="#262626">1.3</text>
<text transform="translate(223.94,341.1)" font-size="10.8" text-anchor="middle" textLength="5.13" lengthAdjust="spacingAndGlyphs" fill="#262626" font-style="italic">&#960;</text>
<line x1="148.6" y1="348.7" x2="178.3" y2="348.7" stroke="#7E2F8E" stroke-width="2.6"/>
<text transform="translate(185.11,353.1)" font-size="10.8" text-anchor="middle" textLength="7.83" lengthAdjust="spacingAndGlyphs" fill="#262626">&#916;</text>
<text transform="translate(193.22,353.1)" font-size="10.8" text-anchor="middle" textLength="5.95" lengthAdjust="spacingAndGlyphs" fill="#262626" font-style="italic">&#981;</text>
<text transform="translate(201.66,353.1)" font-size="10.8" text-anchor="middle" textLength="5.54" lengthAdjust="spacingAndGlyphs" fill="#262626">=</text>
<text transform="translate(213.45,353.1)" font-size="10.8" text-anchor="middle" textLength="11.94" lengthAdjust="spacingAndGlyphs" fill="#262626">1.4</text>
<text transform="translate(223.94,353.1)" font-size="10.8" text-anchor="middle" textLength="5.13" lengthAdjust="spacingAndGlyphs" fill="#262626" font-style="italic">&#960;</text>
<line x1="148.6" y1="360.5" x2="178.3" y2="360.5" stroke="#77AC30" stroke-width="2.6"/>
<text transform="translate(185.11,364.9)" font-size="10.8" text-anchor="middle" textLength="7.83" lengthAdjust="spacingAndGlyphs" fill="#262626">&#916;</text>
<text transform="translate(193.22,364.9)" font-size="10.8" text-anchor="middle" textLength="5.95" lengthAdjust="spacingAndGlyphs" fill="#262626" font-style="italic">&#981;</text>
<text transform="translate(201.66,364.9)" font-size="10.8" text-anchor="middle" textLength="5.54" lengthAdjust="spacingAndGlyphs" fill="#262626">=</text>
<text transform="translate(213.45,364.9)" font-size="10.8" text-anchor="middle" textLength="11.94" lengthAdjust="spacingAndGlyphs" fill="#262626">1.5</text>
<text transform="translate(223.94,364.9)" font-size="10.8" text-anchor="middle" textLength="5.13" lengthAdjust="spacingAndGlyphs" fill="#262626" font-style="italic">&#960;</text>
<text transform="translate(37.1,531.52)" font-size="11.2" text-anchor="end" fill="#262626">0</text>
<text transform="translate(37.1,486.32)" font-size="11.2" text-anchor="end" fill="#262626">5</text>
<text transform="translate(37.1,441.12)" font-size="11.2" text-anchor="end" fill="#262626">10</text>
<text transform="translate(37.1,395.92)" font-size="11.2" text-anchor="end" fill="#262626">15</text>
<text transform="translate(37.1,350.72)" font-size="11.2" text-anchor="end" fill="#262626">20</text>
<text transform="translate(37.1,305.52)" font-size="11.2" text-anchor="end" fill="#262626">25</text>
<text transform="translate(42,546) scale(1,1.05)" font-size="10.6" text-anchor="middle" fill="#262626">10<tspan dx="0.6" dy="-5.62" font-size="8.3">-1</tspan></text>
<text transform="translate(186.25,546) scale(1,1.05)" font-size="10.6" text-anchor="middle" fill="#262626">10<tspan dx="0.6" dy="-5.62" font-size="8.3">0</tspan></text>
<text transform="translate(330.5,546) scale(1,1.05)" font-size="10.6" text-anchor="middle" fill="#262626">10<tspan dx="0.6" dy="-5.62" font-size="8.3">1</tspan></text>
<text transform="translate(170.9,560.6) scale(1,1.1)" font-size="11" text-anchor="middle" textLength="89.67" lengthAdjust="spacingAndGlyphs" fill="#262626">Eccentricity ratio</text>
<text transform="translate(222.3,560.6) scale(1,1.1)" font-size="11" text-anchor="middle" fill="#262626" font-style="italic">e</text>
<text transform="translate(228.65,566.5) scale(1,1.1)" font-size="9.3" text-anchor="middle" fill="#262626">1</text>
<text transform="translate(233.05,560.6) scale(1,1.1)" font-size="11" text-anchor="middle" fill="#262626">/</text>
<text transform="translate(237.4,560.6) scale(1,1.1)" font-size="11" text-anchor="middle" fill="#262626" font-style="italic">e</text>
<text transform="translate(244,566.5) scale(1,1.1)" font-size="9.3" text-anchor="middle" fill="#262626">2</text>
<text transform="translate(14.6,475) rotate(-90)" font-size="11.7" textLength="124.38" lengthAdjust="spacingAndGlyphs" fill="#262626">RMS of acceleration (m/s</text>
<text transform="translate(8.3,347.85) rotate(-90)" font-size="10.42" text-anchor="middle" fill="#262626">2</text>
<text transform="translate(14.58,341.7) rotate(-90)" font-size="13.22" text-anchor="end" fill="#262626">)</text>
<text transform="translate(258.9,585.88)" font-size="16.54" text-anchor="middle" textLength="19.12" lengthAdjust="spacingAndGlyphs" fill="#000">(c)</text>
<line x1="430.42" y1="303" x2="430.42" y2="528" stroke="#eeeeee" stroke-width="1" stroke-dasharray="1,1"/><line x1="455.82" y1="303" x2="455.82" y2="528" stroke="#eeeeee" stroke-width="1" stroke-dasharray="1,1"/><line x1="473.85" y1="303" x2="473.85" y2="528" stroke="#eeeeee" stroke-width="1" stroke-dasharray="1,1"/><line x1="487.83" y1="303" x2="487.83" y2="528" stroke="#eeeeee" stroke-width="1" stroke-dasharray="1,1"/><line x1="499.25" y1="303" x2="499.25" y2="528" stroke="#eeeeee" stroke-width="1" stroke-dasharray="1,1"/><line x1="508.91" y1="303" x2="508.91" y2="528" stroke="#eeeeee" stroke-width="1" stroke-dasharray="1,1"/><line x1="517.27" y1="303" x2="517.27" y2="528" stroke="#eeeeee" stroke-width="1" stroke-dasharray="1,1"/><line x1="524.65" y1="303" x2="524.65" y2="528" stroke="#eeeeee" stroke-width="1" stroke-dasharray="1,1"/><line x1="574.67" y1="303" x2="574.67" y2="528" stroke="#eeeeee" stroke-width="1" stroke-dasharray="1,1"/><line x1="600.07" y1="303" x2="600.07" y2="528" stroke="#eeeeee" stroke-width="1" stroke-dasharray="1,1"/><line x1="618.1" y1="303" x2="618.1" y2="528" stroke="#eeeeee" stroke-width="1" stroke-dasharray="1,1"/><line x1="632.08" y1="303" x2="632.08" y2="528" stroke="#eeeeee" stroke-width="1" stroke-dasharray="1,1"/><line x1="643.5" y1="303" x2="643.5" y2="528" stroke="#eeeeee" stroke-width="1" stroke-dasharray="1,1"/><line x1="653.16" y1="303" x2="653.16" y2="528" stroke="#eeeeee" stroke-width="1" stroke-dasharray="1,1"/><line x1="661.52" y1="303" x2="661.52" y2="528" stroke="#eeeeee" stroke-width="1" stroke-dasharray="1,1"/><line x1="668.9" y1="303" x2="668.9" y2="528" stroke="#eeeeee" stroke-width="1" stroke-dasharray="1,1"/><line x1="531.25" y1="302.5" x2="531.25" y2="528.5" stroke="#e6e6e6" stroke-width="1"/><line x1="387.0" y1="505.9" x2="675.5" y2="505.9" stroke="#e6e6e6" stroke-width="1"/><line x1="387.0" y1="483.3" x2="675.5" y2="483.3" stroke="#e6e6e6" stroke-width="1"/><line x1="387.0" y1="460.7" x2="675.5" y2="460.7" stroke="#e6e6e6" stroke-width="1"/><line x1="387.0" y1="438.1" x2="675.5" y2="438.1" stroke="#e6e6e6" stroke-width="1"/><line x1="387.0" y1="415.5" x2="675.5" y2="415.5" stroke="#e6e6e6" stroke-width="1"/><line x1="387.0" y1="392.9" x2="675.5" y2="392.9" stroke="#e6e6e6" stroke-width="1"/><line x1="387.0" y1="370.3" x2="675.5" y2="370.3" stroke="#e6e6e6" stroke-width="1"/><line x1="387.0" y1="347.7" x2="675.5" y2="347.7" stroke="#e6e6e6" stroke-width="1"/><line x1="387.0" y1="325.1" x2="675.5" y2="325.1" stroke="#e6e6e6" stroke-width="1"/>
<rect x="387.0" y="302.5" width="288.5" height="226" fill="none" stroke="#6e6e6e" stroke-width="1"/>
<path d="M387.0,505.9h3M675.5,505.9h-3M387.0,483.3h3M675.5,483.3h-3M387.0,460.7h3M675.5,460.7h-3M387.0,438.1h3M675.5,438.1h-3M387.0,415.5h3M675.5,415.5h-3M387.0,392.9h3M675.5,392.9h-3M387.0,370.3h3M675.5,370.3h-3M387.0,347.7h3M675.5,347.7h-3M387.0,325.1h3M675.5,325.1h-3M430.42,528.5v-1.6M430.42,302.5v1.6M455.82,528.5v-1.6M455.82,302.5v1.6M473.85,528.5v-1.6M473.85,302.5v1.6M487.83,528.5v-1.6M487.83,302.5v1.6M499.25,528.5v-1.6M499.25,302.5v1.6M508.91,528.5v-1.6M508.91,302.5v1.6M517.27,528.5v-1.6M517.27,302.5v1.6M524.65,528.5v-1.6M524.65,302.5v1.6M531.25,528.5v-3M531.25,302.5v3M574.67,528.5v-1.6M574.67,302.5v1.6M600.07,528.5v-1.6M600.07,302.5v1.6M618.1,528.5v-1.6M618.1,302.5v1.6M632.08,528.5v-1.6M632.08,302.5v1.6M643.5,528.5v-1.6M643.5,302.5v1.6M653.16,528.5v-1.6M653.16,302.5v1.6M661.52,528.5v-1.6M661.52,302.5v1.6M668.9,528.5v-1.6M668.9,302.5v1.6" stroke="#6e6e6e" stroke-width="1" fill="none"/>
<clipPath id="cpd"><rect x="386.5" y="302" width="289.5" height="227"/></clipPath><g clip-path="url(#cpd)">
<path d="M387.00,474.10 L396.95,481.90 L406.90,490.30 L416.84,496.81 L426.79,501.49 L436.74,505.92 L446.69,508.12 L456.64,510.53 L466.59,512.09 L476.53,513.39 L486.48,514.20 L496.43,514.20 L506.38,514.62 L516.33,515.10 L526.28,515.10 L536.22,514.30 L546.17,512.57 L556.12,510.68 L566.07,508.68 L576.02,503.23 L585.97,499.28 L595.91,490.23 L605.86,485.29 L615.81,475.99 L625.76,465.75 L635.71,453.26 L645.66,437.00 L655.60,419.74 L665.55,398.64 L675.50,375.07" fill="none" stroke="#0072BD" stroke-width="2.6" stroke-linejoin="round" stroke-linecap="butt"/>
<path d="M387.00,412.10 L396.95,432.51 L406.90,451.49 L416.84,466.33 L426.79,478.67 L436.74,488.25 L446.69,496.45 L456.64,503.38 L466.59,508.68 L476.53,512.21 L486.48,514.21 L496.43,514.99 L506.38,515.34 L516.33,515.59 L526.28,515.83 L536.22,515.68 L546.17,515.60 L556.12,515.81 L566.07,514.53 L576.02,511.74 L585.97,506.87 L595.91,500.54 L605.86,493.25 L615.81,483.98 L625.76,475.23 L635.71,462.09 L645.66,447.20 L655.60,429.84 L665.55,408.84 L675.50,382.10" fill="none" stroke="#D95319" stroke-width="2.6" stroke-linejoin="round" stroke-linecap="butt"/>
<path d="M387.00,347.60 L396.95,373.78 L406.90,402.89 L416.84,428.60 L426.79,448.51 L436.74,464.43 L446.69,478.44 L456.64,491.26 L466.59,500.32 L476.53,507.17 L486.48,511.88 L496.43,515.28 L506.38,516.90 L516.33,517.32 L526.28,517.40 L536.22,517.08 L546.17,517.00 L556.12,517.31 L566.07,516.71 L576.02,513.94 L585.97,509.07 L595.91,503.37 L605.86,496.87 L615.81,489.07 L625.76,479.76 L635.71,465.89 L645.66,450.90 L655.60,433.64 L665.55,412.54 L675.50,387.10" fill="none" stroke="#EDB120" stroke-width="2.6" stroke-linejoin="round" stroke-linecap="butt"/>
<path d="M387.00,306.10 L396.95,340.37 L406.90,374.28 L416.84,405.34 L426.79,427.64 L436.74,446.60 L446.69,463.75 L456.64,479.04 L466.59,491.42 L476.53,501.20 L486.48,508.99 L496.43,514.57 L506.38,518.23 L516.33,519.68 L526.28,519.46 L536.22,519.05 L546.17,518.90 L556.12,518.81 L566.07,518.21 L576.02,515.44 L585.97,511.22 L595.91,506.29 L605.86,501.27 L615.81,493.47 L625.76,483.27 L635.71,470.65 L645.66,456.00 L655.60,438.74 L665.55,418.90 L675.50,394.62" fill="none" stroke="#7E2F8E" stroke-width="2.6" stroke-linejoin="round" stroke-linecap="butt"/>
<path d="M387.00,316.20 L396.95,348.21 L406.90,382.84 L416.84,407.58 L426.79,431.46 L436.74,451.27 L446.69,467.96 L456.64,482.23 L466.59,493.41 L476.53,502.55 L486.48,509.76 L496.43,515.42 L506.38,519.54 L516.33,521.95 L526.28,521.96 L536.22,521.37 L546.17,521.10 L556.12,521.01 L566.07,520.41 L576.02,517.54 L585.97,512.67 L595.91,507.06 L605.86,499.80 L615.81,493.46 L625.76,484.64 L635.71,470.95 L645.66,453.50 L655.60,436.24 L665.55,416.30 L675.50,390.43" fill="none" stroke="#77AC30" stroke-width="2.6" stroke-linejoin="round" stroke-linecap="butt"/>
</g>
<rect x="486.5" y="308.5" width="81.2" height="60.7" fill="#fff" stroke="#6e6e6e" stroke-width="1"/>
<line x1="489.4" y1="315" x2="517.9" y2="315" stroke="#0072BD" stroke-width="2.6"/>
<text transform="translate(524.51,319.4)" font-size="10.8" text-anchor="middle" textLength="7.41" lengthAdjust="spacingAndGlyphs" fill="#262626">&#916;</text>
<text transform="translate(532.21,319.4)" font-size="10.8" text-anchor="middle" textLength="5.63" lengthAdjust="spacingAndGlyphs" fill="#262626" font-style="italic">&#981;</text>
<text transform="translate(540.22,319.4)" font-size="10.8" text-anchor="middle" textLength="5.24" lengthAdjust="spacingAndGlyphs" fill="#262626">=</text>
<text transform="translate(551.41,319.4)" font-size="10.8" text-anchor="middle" textLength="11.32" lengthAdjust="spacingAndGlyphs" fill="#262626">1.6</text>
<text transform="translate(561.37,319.4)" font-size="10.8" text-anchor="middle" textLength="4.85" lengthAdjust="spacingAndGlyphs" fill="#262626" font-style="italic">&#960;</text>
<line x1="489.4" y1="327" x2="517.9" y2="327" stroke="#D95319" stroke-width="2.6"/>
<text transform="translate(524.51,331.4)" font-size="10.8" text-anchor="middle" textLength="7.41" lengthAdjust="spacingAndGlyphs" fill="#262626">&#916;</text>
<text transform="translate(532.21,331.4)" font-size="10.8" text-anchor="middle" textLength="5.63" lengthAdjust="spacingAndGlyphs" fill="#262626" font-style="italic">&#981;</text>
<text transform="translate(540.22,331.4)" font-size="10.8" text-anchor="middle" textLength="5.24" lengthAdjust="spacingAndGlyphs" fill="#262626">=</text>
<text transform="translate(551.41,331.4)" font-size="10.8" text-anchor="middle" textLength="11.32" lengthAdjust="spacingAndGlyphs" fill="#262626">1.7</text>
<text transform="translate(561.37,331.4)" font-size="10.8" text-anchor="middle" textLength="4.85" lengthAdjust="spacingAndGlyphs" fill="#262626" font-style="italic">&#960;</text>
<line x1="489.4" y1="339" x2="517.9" y2="339" stroke="#EDB120" stroke-width="2.6"/>
<text transform="translate(524.51,343.4)" font-size="10.8" text-anchor="middle" textLength="7.41" lengthAdjust="spacingAndGlyphs" fill="#262626">&#916;</text>
<text transform="translate(532.21,343.4)" font-size="10.8" text-anchor="middle" textLength="5.63" lengthAdjust="spacingAndGlyphs" fill="#262626" font-style="italic">&#981;</text>
<text transform="translate(540.22,343.4)" font-size="10.8" text-anchor="middle" textLength="5.24" lengthAdjust="spacingAndGlyphs" fill="#262626">=</text>
<text transform="translate(551.41,343.4)" font-size="10.8" text-anchor="middle" textLength="11.32" lengthAdjust="spacingAndGlyphs" fill="#262626">1.8</text>
<text transform="translate(561.37,343.4)" font-size="10.8" text-anchor="middle" textLength="4.85" lengthAdjust="spacingAndGlyphs" fill="#262626" font-style="italic">&#960;</text>
<line x1="489.4" y1="350.8" x2="517.9" y2="350.8" stroke="#7E2F8E" stroke-width="2.6"/>
<text transform="translate(524.51,355.2)" font-size="10.8" text-anchor="middle" textLength="7.41" lengthAdjust="spacingAndGlyphs" fill="#262626">&#916;</text>
<text transform="translate(532.21,355.2)" font-size="10.8" text-anchor="middle" textLength="5.63" lengthAdjust="spacingAndGlyphs" fill="#262626" font-style="italic">&#981;</text>
<text transform="translate(540.22,355.2)" font-size="10.8" text-anchor="middle" textLength="5.24" lengthAdjust="spacingAndGlyphs" fill="#262626">=</text>
<text transform="translate(551.41,355.2)" font-size="10.8" text-anchor="middle" textLength="11.32" lengthAdjust="spacingAndGlyphs" fill="#262626">1.9</text>
<text transform="translate(561.37,355.2)" font-size="10.8" text-anchor="middle" textLength="4.85" lengthAdjust="spacingAndGlyphs" fill="#262626" font-style="italic">&#960;</text>
<line x1="489.4" y1="362.8" x2="517.9" y2="362.8" stroke="#77AC30" stroke-width="2.6"/>
<text transform="translate(524.51,367.2)" font-size="10.8" text-anchor="middle" textLength="7.41" lengthAdjust="spacingAndGlyphs" fill="#262626">&#916;</text>
<text transform="translate(532.21,367.2)" font-size="10.8" text-anchor="middle" textLength="5.63" lengthAdjust="spacingAndGlyphs" fill="#262626" font-style="italic">&#981;</text>
<text transform="translate(540.22,367.2)" font-size="10.8" text-anchor="middle" textLength="5.24" lengthAdjust="spacingAndGlyphs" fill="#262626">=</text>
<text transform="translate(551.41,367.2)" font-size="10.8" text-anchor="middle" textLength="11.32" lengthAdjust="spacingAndGlyphs" fill="#262626">2.0</text>
<text transform="translate(561.37,367.2)" font-size="10.8" text-anchor="middle" textLength="4.85" lengthAdjust="spacingAndGlyphs" fill="#262626" font-style="italic">&#960;</text>
<text transform="translate(382.7,532.46)" font-size="11" text-anchor="end" fill="#262626">0</text>
<text transform="translate(382.7,509.86)" font-size="11" text-anchor="end" fill="#262626">2</text>
<text transform="translate(382.7,487.26)" font-size="11" text-anchor="end" fill="#262626">4</text>
<text transform="translate(382.7,464.66)" font-size="11" text-anchor="end" fill="#262626">6</text>
<text transform="translate(382.7,442.06)" font-size="11" text-anchor="end" fill="#262626">8</text>
<text transform="translate(382.7,419.46)" font-size="11" text-anchor="end" fill="#262626">10</text>
<text transform="translate(382.7,396.86)" font-size="11" text-anchor="end" fill="#262626">12</text>
<text transform="translate(382.7,374.26)" font-size="11" text-anchor="end" fill="#262626">14</text>
<text transform="translate(382.7,351.66)" font-size="11" text-anchor="end" fill="#262626">16</text>
<text transform="translate(382.7,329.06)" font-size="11" text-anchor="end" fill="#262626">18</text>
<text transform="translate(382.7,306.46)" font-size="11" text-anchor="end" fill="#262626">20</text>
<text transform="translate(387,546.6) scale(1,1.08)" font-size="10.5" text-anchor="middle" fill="#262626">10<tspan dx="0.6" dy="-5.46" font-size="8.3">-1</tspan></text>
<text transform="translate(531.25,546.6) scale(1,1.08)" font-size="10.5" text-anchor="middle" fill="#262626">10<tspan dx="0.6" dy="-5.46" font-size="8.3">0</tspan></text>
<text transform="translate(675.5,546.6) scale(1,1.08)" font-size="10.5" text-anchor="middle" fill="#262626">10<tspan dx="0.6" dy="-5.46" font-size="8.3">1</tspan></text>
<text transform="translate(516.3,560.6) scale(1,1.08)" font-size="11" text-anchor="middle" textLength="85.63" lengthAdjust="spacingAndGlyphs" fill="#262626">Eccentricity ratio</text>
<text transform="translate(565.4,560.6) scale(1,1.08)" font-size="11" text-anchor="middle" fill="#262626" font-style="italic">e</text>
<text transform="translate(571.4,566.5) scale(1,1.08)" font-size="9.3" text-anchor="middle" fill="#262626">1</text>
<text transform="translate(575.95,560.6) scale(1,1.08)" font-size="11" text-anchor="middle" fill="#262626">/</text>
<text transform="translate(580.5,560.6) scale(1,1.08)" font-size="11" text-anchor="middle" fill="#262626" font-style="italic">e</text>
<text transform="translate(586,566.5) scale(1,1.08)" font-size="9.3" text-anchor="middle" fill="#262626">2</text>
<text transform="translate(361,483) rotate(-90)" font-size="11.9" textLength="122.97" lengthAdjust="spacingAndGlyphs" fill="#262626">RMS of acceleration (m/s</text>
<text transform="translate(354.7,357.05) rotate(-90)" font-size="9.52" text-anchor="middle" fill="#262626">2</text>
<text transform="translate(360.74,351.3) rotate(-90)" font-size="12.49" text-anchor="end" fill="#262626">)</text>
<text transform="translate(424.7,585.88)" font-size="16.54" text-anchor="middle" textLength="19.99" lengthAdjust="spacingAndGlyphs" fill="#000">(d)</text>
</svg></body></html>
